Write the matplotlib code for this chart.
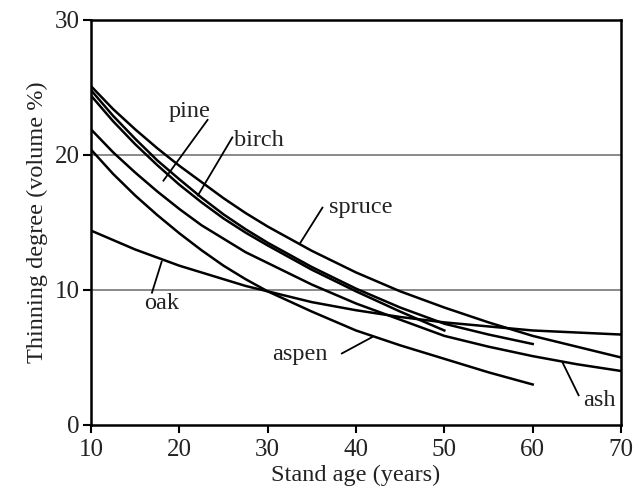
import matplotlib
matplotlib.use("Agg")
import matplotlib.pyplot as plt

plt.rcParams['font.family'] = ['Liberation Serif', 'DejaVu Serif']

# Stand age (years) and thinning degree (volume %)
age_70 = [10, 12.5, 15, 17.5, 20, 22.5, 25, 27.5, 30, 35, 40, 45, 50, 55, 60, 65, 70]
age_60 = [10, 12.5, 15, 17.5, 20, 22.5, 25, 27.5, 30, 35, 40, 45, 50, 55, 60]
age_50 = [10, 12.5, 15, 17.5, 20, 22.5, 25, 27.5, 30, 35, 40, 45, 50]

spruce = [25.1, 23.4, 21.9, 20.5, 19.2, 18.0, 16.8, 15.7, 14.7, 12.9, 11.3, 9.9, 8.7, 7.6, 6.6, 5.8, 5.0]
ash    = [21.9, 20.2, 18.7, 17.3, 16.0, 14.8, 13.8, 12.8, 12.0, 10.4, 9.0, 7.8, 6.6, 5.8, 5.1, 4.5, 4.0]
oak    = [14.4, 13.7, 13.0, 12.4, 11.8, 11.3, 10.8, 10.3, 9.9, 9.1, 8.5, 8.0, 7.6, 7.3, 7.0, 6.85, 6.7]
birch  = [24.8, 22.9, 21.2, 19.6, 18.2, 16.85, 15.6, 14.5, 13.5, 11.7, 10.1, 8.7, 7.5, 6.7, 6.0]
aspen  = [20.4, 18.6, 17.0, 15.55, 14.2, 12.95, 11.8, 10.8, 9.9, 8.4, 7.0, 5.9, 4.9, 3.9, 3.0]
pine   = [24.4, 22.5, 20.8, 19.25, 17.8, 16.5, 15.3, 14.25, 13.3, 11.5, 9.9, 8.4, 7.0]

series = [
    (age_70, spruce), (age_70, ash), (age_70, oak),
    (age_60, birch), (age_60, aspen), (age_50, pine),
]

# label text, text position, pointer start, pointer end (data coords)
labels = [
    ("pine",   (21.2, 23.2), (23.2, 22.6), (18.2, 18.1)),
    ("birch",  (29.0, 21.1), (26.0, 21.3), (22.1, 17.0)),
    ("spruce", (40.5, 16.1), (36.2, 16.1), (33.7, 13.5)),
    ("oak",    (18.0, 9.0),  (16.9, 9.8),  (18.0, 12.1)),
    ("aspen",  (33.7, 5.2),  (38.4, 5.3),  (41.8, 6.5)),
    ("ash",    (67.5, 1.85), (65.2, 2.2),  (63.4, 4.6)),
]

fig = plt.figure(figsize=(6.35, 4.97), dpi=100)
ax = fig.add_axes([0.1433, 0.1449, 0.8347, 0.8149])

for yv in [10, 20]:
    ax.axhline(yv, color='#777777', lw=1.2, zorder=1)

for xs, ys in series:
    ax.plot(xs, ys, color='black', lw=1.8, zorder=3)

for txt, tpos, p0, p1 in labels:
    ax.plot([p0[0], p1[0]], [p0[1], p1[1]], color='black', lw=1.3, zorder=3)
    ax.text(tpos[0], tpos[1], txt, ha='center', va='center', fontsize=17.5,
            color='#222222', zorder=4)

ax.set_xlim(10, 70)
ax.set_ylim(0, 30)
ax.set_xticks([10, 20, 30, 40, 50, 60, 70])
ax.set_yticks([0, 10, 20, 30])
ax.tick_params(direction='out', length=6, width=1.5, labelsize=18,
               colors='black', labelcolor='#222222', pad=2)
ax.tick_params(axis='x', pad=4)
for s in ax.spines.values():
    s.set_linewidth(1.8)
ax.set_xlabel("Stand age (years)", fontsize=17.5, color='#222222', labelpad=3)
ax.set_ylabel("Thinning degree (volume %)", fontsize=17.5, color='#222222', labelpad=5)

fig.savefig("out.png", dpi=100)
